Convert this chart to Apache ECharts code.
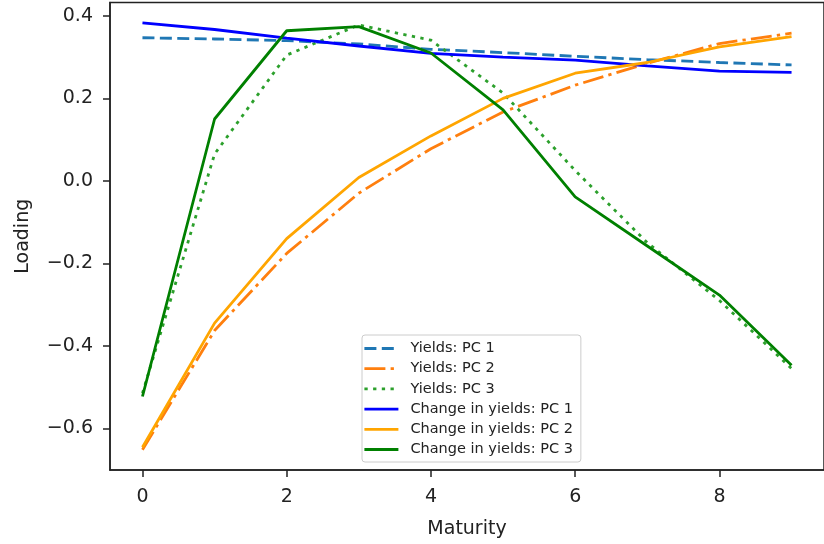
<!DOCTYPE html>
<html>
<head>
<meta charset="utf-8">
<script src="https://cdn.jsdelivr.net/npm/echarts@6/dist/echarts.min.js"></script>
<style>html,body{margin:0;padding:0;background:#fff}#c{width:824px;height:544px}</style>
</head>
<body>
<div id="c"></div>
<script>
const maturity = [0, 1, 2, 3, 4, 5, 6, 7, 8, 9];
const yieldsPC1 = [0.347, 0.344, 0.340, 0.332, 0.319, 0.311, 0.302, 0.294, 0.287, 0.281];
const yieldsPC2 = [-0.652, -0.363, -0.176, -0.030, 0.078, 0.167, 0.232, 0.285, 0.333, 0.358];
const yieldsPC3 = [-0.515, 0.065, 0.305, 0.378, 0.341, 0.213, 0.025, -0.150, -0.290, -0.455];
const changePC1 = [0.383, 0.367, 0.346, 0.327, 0.309, 0.300, 0.293, 0.279, 0.266, 0.263];
const changePC2 = [-0.646, -0.345, -0.140, 0.008, 0.109, 0.200, 0.261, 0.287, 0.325, 0.350];
const changePC3 = [-0.523, 0.150, 0.364, 0.374, 0.310, 0.172, -0.039, -0.158, -0.277, -0.447];
const seriesNames = ['Yields: PC 1', 'Yields: PC 2', 'Yields: PC 3',
  'Change in yields: PC 1', 'Change in yields: PC 2', 'Change in yields: PC 3'];
const xTicks = [0, 2, 4, 6, 8];
const yTicks = [-0.6, -0.4, -0.2, 0.0, 0.2, 0.4];

const seriesData = [yieldsPC1, yieldsPC2, yieldsPC3, changePC1, changePC2, changePC3];
const colors = ['#1f77b4', '#ff7f0e', '#2ca02c', '#0000ff', '#ffa500', '#008000'];
const dashes = [[12, 5.4], [21, 5.2, 3.3, 5.2], [3.3, 5.4], 'solid', 'solid', 'solid'];

const chart = echarts.init(document.getElementById('c'), null, {renderer: 'canvas'});
const FONT = 'DejaVu Sans';
chart.setOption({
  animation: false,
  backgroundColor: '#ffffff',
  textStyle: {fontFamily: FONT},
  grid: {left: 110, top: 2.5, width: 721, height: 467.5, show: true,
    borderColor: '#222', borderWidth: 1.5, backgroundColor: '#fff'},
  xAxis: {
    type: 'value', min: -0.45, max: 9.45,
    name: 'Maturity', nameLocation: 'middle', nameGap: 50,
    nameTextStyle: {fontFamily: FONT, fontSize: 19, color: '#222'},
    axisLine: {show: true, onZero: false, lineStyle: {color: '#222', width: 1.5}},
    axisTick: {show: true, length: 7, lineStyle: {color: '#222', width: 1.5}, customValues: xTicks},
    axisLabel: {fontFamily: FONT, fontSize: 19, color: '#222', margin: 18, customValues: xTicks,
      formatter: v => String(v)},
    splitLine: {show: false}
  },
  yAxis: {
    type: 'value', min: -0.7012, max: 0.4325,
    name: 'Loading', nameLocation: 'middle', nameGap: 77,
    nameTextStyle: {fontFamily: FONT, fontSize: 19, color: '#222'},
    axisLine: {show: true, onZero: false, lineStyle: {color: '#222', width: 1.5}},
    axisTick: {show: true, length: 7, lineStyle: {color: '#222', width: 1.5}, customValues: yTicks},
    axisLabel: {fontFamily: FONT, fontSize: 19, color: '#222', margin: 17, customValues: yTicks,
      formatter: v => (v < 0 ? '\u2212' + Math.abs(v).toFixed(1) : v.toFixed(1))},
    splitLine: {show: false}
  },
  legend: {
    orient: 'vertical', left: 362, top: 335,
    data: seriesNames,
    itemWidth: 34, itemHeight: 14, itemGap: 5.2,
    padding: [6, 8, 5, 1],
    borderColor: '#cccccc', borderWidth: 1, borderRadius: 3,
    backgroundColor: 'rgba(255,255,255,0.8)',
    itemStyle: {opacity: 0},
    lineStyle: {width: 2.8},
    textStyle: {fontFamily: FONT, fontSize: 14.5, lineHeight: 14, color: '#222', padding: [0, 0, 0, 7]}
  },
  series: seriesNames.map((name, i) => ({
    name: name,
    type: 'line',
    data: maturity.map((m, j) => [m, seriesData[i][j]]),
    symbol: 'none',
    showSymbol: false,
    color: colors[i],
    lineStyle: {color: colors[i], width: 2.8, type: dashes[i]},
    z: 2 + i
  }))
});
</script>
</body>
</html>
